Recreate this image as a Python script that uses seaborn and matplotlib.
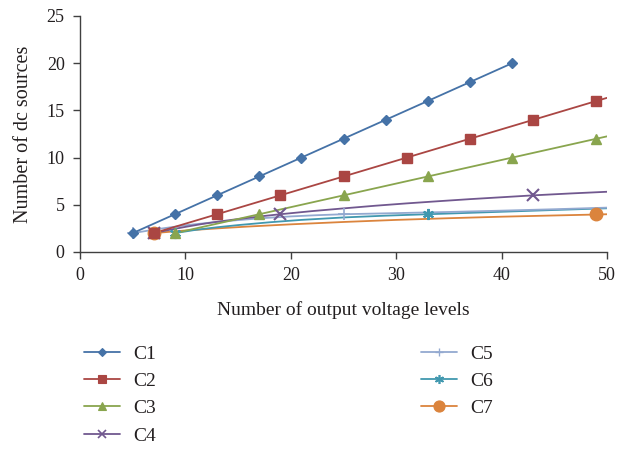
import numpy as np
import pandas as pd
import matplotlib
matplotlib.use("Agg")
import matplotlib.pyplot as plt
from matplotlib.lines import Line2D
import seaborn as sns

sns.set_theme(style="white")
plt.rcParams["font.family"] = ["Liberation Serif", "DejaVu Serif"]

series_names = ["C1", "C2", "C3", "C4", "C5", "C6", "C7"]

# marker points (levels, dc sources)
c1_mx = [5, 9, 13, 17, 21, 25, 29, 33, 37, 41]
c1_my = [2, 4, 6, 8, 10, 12, 14, 16, 18, 20]
c2_mx = [7, 13, 19, 25, 31, 37, 43, 49]
c2_my = [2, 4, 6, 8, 10, 12, 14, 16]
c3_mx = [9, 17, 25, 33, 41, 49]
c3_my = [2, 4, 6, 8, 10, 12]
c4_mx = [7, 19, 43]
c4_my = [2, 4, 6]
c5_mx = [5, 25]
c5_my = [2, 4]
c6_mx = [9, 33]
c6_my = [2, 4]
c7_mx = [7, 49]
c7_my = [2, 4]

# smooth curve points
c1_lx = [5, 9, 13, 17, 21, 25, 29, 33, 37, 41]
c1_ly = [2, 4, 6, 8, 10, 12, 14, 16, 18, 20]
c2_lx = [7, 13, 19, 25, 31, 37, 43, 49, 50]
c2_ly = [2, 4, 6, 8, 10, 12, 14, 16, 16.33]
c3_lx = [9, 17, 25, 33, 41, 49, 50]
c3_ly = [2, 4, 6, 8, 10, 12, 12.25]
c4_lx = [7, 8.5, 10, 11.5, 13, 14.5, 16, 17.5, 19, 22, 25, 28, 31, 34, 37, 40, 43, 46.5, 50]
c4_ly = [2, 2.35, 2.66, 2.95, 3.2, 3.42, 3.62, 3.82, 4.0, 4.33, 4.62, 4.9, 5.15, 5.38, 5.6, 5.8, 6.0, 6.2, 6.38]
c5_lx = [5, 7.5, 10, 12.5, 15, 17.5, 20, 22.5, 25, 30, 35, 40, 45, 50]
c5_ly = [2, 2.45, 2.83, 3.13, 3.38, 3.6, 3.77, 3.9, 4.0, 4.12, 4.24, 4.38, 4.53, 4.7]
c6_lx = [9, 11, 13, 15, 18, 21, 25, 29, 33, 37, 41, 45, 50]
c6_ly = [2, 2.35, 2.62, 2.85, 3.15, 3.4, 3.66, 3.85, 4.0, 4.15, 4.3, 4.45, 4.63]
c7_lx = [7, 10, 13, 16, 20, 25, 30, 35, 40, 45, 49, 50]
c7_ly = [2, 2.28, 2.5, 2.7, 2.93, 3.18, 3.4, 3.58, 3.74, 3.87, 3.97, 4.0]

x_ticks = [0, 10, 20, 30, 40, 50]
y_ticks = [0, 5, 10, 15, 20, 25]

colors = ["#4572A7", "#AA4643", "#89A54E", "#71588F", "#93A9D0", "#4198AF", "#DB843D"]
markers = ["D", "s", "^", "x", (6, 2, 0), "+", "o"]
markers = ["D", "s", "^", "x", "+", (6, 2, 0), "o"]
msizes = [5.5, 7, 7, 8, 9, 8, 9]
mews = [1, 1, 1, 1.5, 1.2, 1.5, 1]
leg_sizes = [4.5, 6, 6, 5.5, 6, 6.5, 8]

lines_x = [c1_lx, c2_lx, c3_lx, c4_lx, c5_lx, c6_lx, c7_lx]
lines_y = [c1_ly, c2_ly, c3_ly, c4_ly, c5_ly, c6_ly, c7_ly]
marks_x = [c1_mx, c2_mx, c3_mx, c4_mx, c5_mx, c6_mx, c7_mx]
marks_y = [c1_my, c2_my, c3_my, c4_my, c5_my, c6_my, c7_my]

fig = plt.figure(figsize=(6.18, 4.49), dpi=100)
ax = fig.add_axes([80 / 618, 1 - 252 / 449, (607 - 80) / 618, (252 - 16) / 449])

# draw from back to front so C1 is on top
order = [6, 5, 4, 3, 2, 1, 0]
for i in order:
    dfl = pd.DataFrame({"x": lines_x[i], "y": lines_y[i]})
    sns.lineplot(data=dfl, x="x", y="y", ax=ax, color=colors[i], linewidth=1.3,
                 sort=False, estimator=None, legend=False)
for i in order:
    dfm = pd.DataFrame({"x": marks_x[i], "y": marks_y[i]})
    ax.plot(dfm["x"], dfm["y"], linestyle="none", marker=markers[i],
            markersize=msizes[i], color=colors[i], markeredgecolor=colors[i],
            markeredgewidth=mews[i], clip_on=False)

ax.set_xlim(0, 50)
ax.set_ylim(0, 25)
ax.set_xticks(x_ticks)
ax.set_yticks(y_ticks)
ax.set_xticklabels([str(v) for v in x_ticks])
ax.set_yticklabels([str(v) for v in y_ticks])
ax.tick_params(axis="both", direction="out", length=5, width=1, color="#404040",
               labelsize=13, labelcolor="#231f20", pad=6, bottom=True, left=True)
for s in ["top", "right"]:
    ax.spines[s].set_visible(False)
for s in ["left", "bottom"]:
    ax.spines[s].set_color("#404040")
    ax.spines[s].set_linewidth(1)
ax.grid(False)
ax.set_xlabel("Number of output voltage levels", fontsize=14, color="#231f20", labelpad=12)
ax.set_ylabel("Number of dc sources", fontsize=14.5, color="#231f20", labelpad=10)

handles = [Line2D([0], [0], color=colors[i], linewidth=1.3, marker=markers[i],
                  markersize=leg_sizes[i], markeredgewidth=mews[i] * 0.8,
                  markerfacecolor=colors[i], markeredgecolor=colors[i])
           for i in range(7)]
fig.legend(handles, series_names, loc="upper left", bbox_to_anchor=(84 / 618, 1 - 345 / 449),
           ncol=2, frameon=False, fontsize=14, handlelength=1.85, handletextpad=0.7,
           columnspacing=13.6, labelspacing=0.5, borderpad=0, borderaxespad=0,
           labelcolor="#231f20")

fig.savefig("out.png", dpi=100)
